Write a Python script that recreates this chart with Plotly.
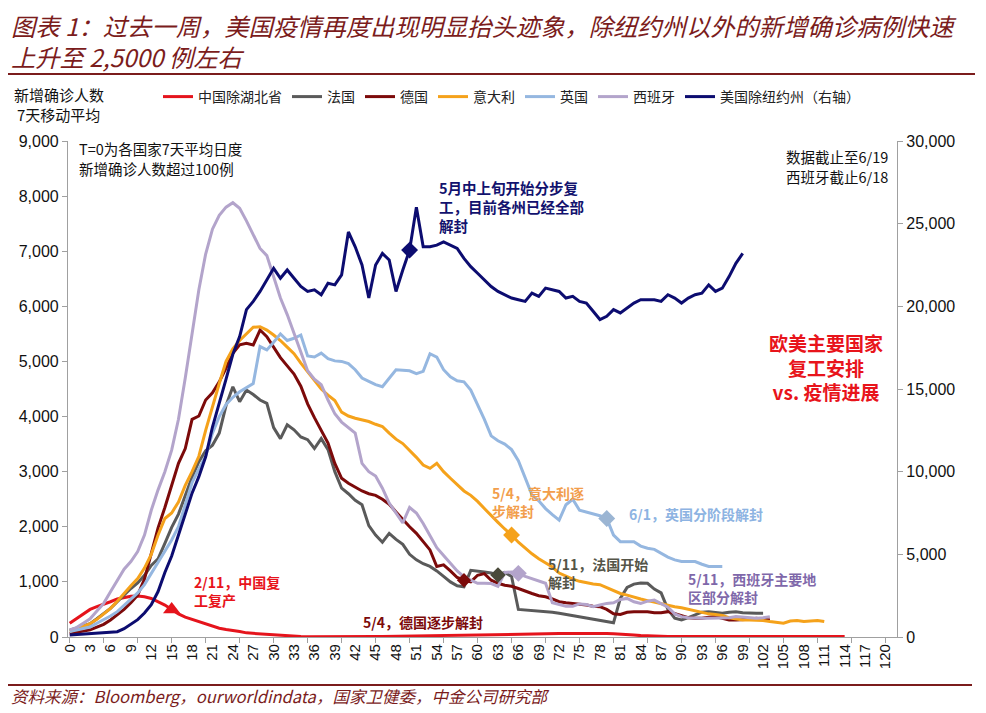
import plotly.graph_objects as go

# ---------------- data (7-day moving average of new confirmed cases) ----------------
china = [250, 330, 420, 500, 550, 590, 640, 690, 720, 740,
         745, 730, 700, 640, 580, 500, 420, 360, 320, 270,
         240, 200, 160, 135, 120, 100, 75, 65, 55, 48,
         40, 30, 20, 12, 8, 6, 5, 5, 5, 5,
         6, 6, 7, 8, 8, 9, 10, 12, 15, 18,
         22, 25, 28, 30, 32, 35, 38, 40, 45, 48,
         50, 52, 55, 55, 56, 56, 56, 58, 58, 58,
         60, 60, 62, 62, 64, 65, 66, 66, 66, 64,
         60, 55, 45, 35, 25, 18, 14, 12, 10, 10,
         10, 10, 10, 10, 10, 10, 10, 10, 10, 10,
         10, 10, 10, 10, 10, 10, 10, 10, 10, 10,
         10, 10, 10, 10, 10]

france = [125, 160, 200, 240, 330, 420, 520, 640, 760, 880,
          980, 1120, 1300, 1420, 1700, 1990, 2230, 2550, 2900, 3180,
          3380, 3480, 3700, 4200, 4540, 4270, 4480, 4400, 4300, 4240,
          3800, 3600, 3850, 3760, 3630, 3580, 3420, 3600, 3400, 3000,
          2700, 2600, 2480, 2400, 2020, 1850, 1720, 1880, 1770, 1680,
          1500, 1400, 1330, 1280, 1200, 1100, 1000, 930, 910, 1210,
          1200, 1180, 1160, 1125, 1170, 1100, 500, 490, 490, 480,
          470, 450, 430, 410, 380, 360, 340, 330, 310, 290,
          260, 700, 900, 960, 980, 975, 870, 800, 500, 340,
          310, 350, 400, 450, 460, 440, 430, 450, 460, 440,
          430, 430, 430]

germany = [65, 90, 110, 130, 180, 230, 310, 400, 500, 620,
           760, 1050, 1500, 1980, 2350, 2750, 3150, 3420, 3950, 4010,
           4300, 4430, 4630, 4880, 5150, 5300, 5330, 5300, 5570, 5450,
           5270, 5070, 4920, 4770, 4550, 4230, 3980, 3740, 3520, 3150,
           2880, 2790, 2720, 2650, 2600, 2570, 2500, 2410, 2270, 2130,
           2000, 1880, 1720, 1580, 1280, 1310, 1200, 1080, 1030, 1000,
           1120, 1150, 1030, 975, 940, 920, 880, 830, 790, 750,
           730, 690, 640, 620, 610, 590, 580, 560, 550, 500,
           420, 410, 450, 460, 460, 460, 440, 440, 460, 420,
           390, 350, 340, 340, 360, 370, 340, 310, 310, 310,
           320, 340, 320, 310]

italy = [100, 150, 200, 240, 320, 420, 520, 650, 800, 930,
         1060, 1250, 1500, 1850, 2150, 2250, 2450, 2750, 3000, 3280,
         3750, 4200, 4600, 5000, 5230, 5380, 5500, 5620, 5630, 5570,
         5480, 5380, 5260, 5140, 4970, 4810, 4650, 4500, 4390, 4290,
         4080, 4010, 3970, 3940, 3910, 3860, 3820, 3700, 3590, 3510,
         3390, 3260, 3120, 3060, 3150, 3000, 2880, 2760, 2650, 2570,
         2460, 2330, 2200, 2080, 1960, 1850, 1720, 1610, 1510, 1420,
         1350, 1270, 1160, 1100, 1050, 1010, 980, 960, 950, 900,
         850, 790, 760, 720, 690, 660, 630, 600, 570, 550,
         530, 500, 470, 440, 420, 410, 390, 350, 330, 310,
         310, 310, 300, 280, 260, 250, 290, 300, 280, 290,
         300, 280]

uk = [100, 130, 160, 180, 250, 310, 380, 460, 570, 680,
      800, 950, 1150, 1350, 1550, 1760, 2000, 2400, 2800, 3050,
      3280, 3700, 4000, 4220, 4350, 4450, 4520, 4600, 5270, 5210,
      5350, 5500, 5380, 5420, 5480, 5100, 5080, 5150, 5050, 5010,
      5000, 4960, 4850, 4700, 4640, 4580, 4540, 4700, 4850, 4840,
      4830, 4780, 4820, 5140, 5080, 4850, 4720, 4650, 4630, 4480,
      4230, 3950, 3650, 3560, 3500, 3400, 3200, 2900, 2580, 2470,
      2330, 2220, 2120, 2400, 2500, 2300, 2270, 2240, 2200, 2150,
      1850, 1730, 1730, 1730, 1650, 1610, 1590, 1520, 1450, 1400,
      1370, 1370, 1370, 1320, 1280, 1280, 1280]

spain = [130, 170, 250, 330, 470, 610, 820, 1020, 1230, 1370,
         1550, 1850, 2300, 2670, 3000, 3390, 3950, 4700, 5500, 6300,
         6950, 7400, 7650, 7800, 7880, 7780, 7550, 7300, 7050, 6920,
         6550, 6150, 5850, 5510, 5150, 4830, 4680, 4580, 4300, 4050,
         3900, 3800, 3700, 3150, 3000, 2920, 2700, 2430, 2250, 2070,
         2350, 2250, 2060, 1850, 1620, 1480, 1330, 1200, 1090, 1030,
         975, 975, 970, 920, 1170, 1180, 1155, 1100, 1060, 1020,
         975, 620, 590, 560, 560, 600, 590, 550, 580, 610,
         620, 680, 700, 640, 610, 650, 670, 600, 540, 420,
         370, 350, 340, 340, 340, 340, 340, 350, 370, 360,
         350, 340, 350, 370]

us_ex_ny = [120, 150, 180, 210, 240, 260, 290, 320, 500, 780,
            1050, 1450, 1950, 2750, 3900, 4900, 6200, 7400, 8700, 9700,
            10900, 12700, 14100, 15600, 17100, 18170, 19800, 20300, 20900, 21600,
            22300, 21700, 22200, 21700, 21200, 20900, 21000, 20700, 21400, 21300,
            21900, 24500, 23600, 22500, 20500, 22500, 23200, 22800, 20900, 22200,
            23400, 26000, 23600, 23600, 23700, 23900, 23700, 23500, 22900, 22400,
            22000, 21600, 21200, 20900, 20700, 20500, 20400, 20300, 20800, 20600,
            21100, 21000, 20900, 20500, 20600, 20300, 20200, 19700, 19200, 19400,
            19800, 19600, 19900, 20200, 20400, 20400, 20400, 20300, 20700, 20500,
            20200, 20500, 20700, 20800, 21300, 20900, 21100, 21800, 22600, 23200]

# reopening-event day (T index) for each series
mark_china, mark_france, mark_germany, mark_italy = 15, 63, 58, 65
mark_uk, mark_spain, mark_us = 79, 66, 50

names = ["中国除湖北省", "法国", "德国", "意大利", "英国", "西班牙", "美国除纽约州（右轴）"]
x_ticks = list(range(0, 121, 3))

# ---------------- styling ----------------
C_CHINA, C_FR, C_DE, C_IT = "#E5141C", "#5A5A5A", "#7C0A0A", "#F5A21B"
C_UK, C_ES, C_US = "#95B7E0", "#B3A4CB", "#0C0C70"
MAROON = "#7B1C1C"
CJK = "Noto Sans CJK SC"
LAT = "Liberation Sans, Arial"

OFF = 8                     # default page margin of the html body
W, H = 986 - OFF, 713 - OFF  # figure size so that it fits the window
L, R, T, B = 68, 897, 141, 637   # plot area in window pixels


def P(xp, yp):
    return (xp - L) / (R - L), (B - yp) / (B - T)


fig = go.Figure()
series = [(china, C_CHINA, "y"), (france, C_FR, "y"), (germany, C_DE, "y"),
          (italy, C_IT, "y"), (uk, C_UK, "y"), (spain, C_ES, "y"), (us_ex_ny, C_US, "y2")]
for (vals, col, yax), nm in zip(series, names):
    fig.add_trace(go.Scatter(x=list(range(len(vals))), y=vals, name=nm, mode="lines",
                             line=dict(color=col, width=3), yaxis=yax))

marks = [(china, mark_china, C_CHINA, "triangle-up", 15, "y"),
         (france, mark_france, "#4A4A3A", "diamond", 12, "y"),
         (germany, mark_germany, C_DE, "diamond", 11, "y"),
         (italy, mark_italy, C_IT, "diamond", 13, "y"),
         (uk, mark_uk, "#9BB5D3", "diamond", 13, "y"),
         (spain, mark_spain, "#B3A4CB", "diamond", 13, "y"),
         (us_ex_ny, mark_us, C_US, "diamond", 13, "y2")]
for vals, idx, col, sym, sz, yax in marks:
    fig.add_trace(go.Scatter(x=[idx], y=[vals[idx]], mode="markers", showlegend=False,
                             marker=dict(color=col, symbol=sym, size=sz), yaxis=yax,
                             hoverinfo="skip"))

# helper trace for the tick-mark axis
fig.add_trace(go.Scatter(x=[0], y=[0], xaxis="x2", mode="markers", showlegend=False,
                         marker=dict(opacity=0), hoverinfo="skip"))

axis_col = "#A0A0A0"
fig.update_layout(
    width=W, height=H, autosize=False,
    margin=dict(l=L - OFF, r=W + OFF - R, t=T - OFF, b=H + OFF - B, pad=0),
    paper_bgcolor="white", plot_bgcolor="white",
    showlegend=True,
    legend=dict(orientation="h", x=P(158, 0)[0], y=P(0, 97)[1], xanchor="left", yanchor="middle",
                font=dict(family=CJK, size=14, color="#222"), bgcolor="rgba(0,0,0,0)",
                itemwidth=30, tracegroupgap=0),
    xaxis=dict(range=[-0.25, 121.7], tickmode="array", tickvals=x_ticks,
               ticktext=[str(v) for v in x_ticks], tickangle=-90, ticks="",
               tickfont=dict(family=LAT, size=15, color="#111"),
               showline=True, linecolor=axis_col, linewidth=1.2, showgrid=False, zeroline=False,
               automargin=False),
    xaxis2=dict(range=[-0.25, 121.7], overlaying="x", side="bottom", dtick=5, tick0=0,
                ticks="outside", ticklen=5, tickcolor=axis_col, showticklabels=False,
                showline=False, showgrid=False, zeroline=False, automargin=False),
    yaxis=dict(range=[0, 9000], dtick=1000, tickformat=",", ticks="outside", ticklen=5,
               tickcolor=axis_col, tickfont=dict(family=LAT, size=16, color="#111"),
               showline=True, linecolor=axis_col, linewidth=1.2, showgrid=False, zeroline=False,
               automargin=False),
    yaxis2=dict(range=[0, 30000], dtick=5000, tickformat=",", ticks="outside", ticklen=5,
                tickcolor=axis_col, tickfont=dict(family=LAT, size=16, color="#111"),
                overlaying="y", side="right", showline=True, linecolor=axis_col, linewidth=1.2,
                showgrid=False, zeroline=False, automargin=False),
)

ann = []


def note(xp, yp, text, size=14, color="#111", xanchor="left", align="left", bold=False,
         italic=False, family=CJK, yanchor="middle"):
    x, y = P(xp, yp)
    t = text
    if bold:
        t = "<b>" + t + "</b>"
    if italic:
        t = "<i>" + t + "</i>"
    ann.append(dict(x=x, y=y, xref="paper", yref="paper", text=t, showarrow=False,
                    xanchor=xanchor, yanchor=yanchor, align=align,
                    font=dict(family=family, size=size, color=color)))


# title / source
note(9, 25, "图表 1：过去一周，美国疫情再度出现明显抬头迹象，除纽约州以外的新增确诊病例快速",
     size=24.3, color=MAROON, italic=True)
note(9, 56, "上升至 2,5000 例左右", size=24.3, color=MAROON, italic=True)
note(9, 696, "资料来源：Bloomberg，ourworldindata，国家卫健委，中金公司研究部",
     size=16.5, color=MAROON, italic=True)

# axis title
note(12, 94, "新增确诊人数", size=15)
note(15, 114, "7天移动平均", size=15)

# notes
note(77, 148, "T=0为各国家7天平均日度", size=14.5)
note(77, 168, "新增确诊人数超过100例", size=14.5)
note(890, 156, "数据截止至6/19", size=14.5, xanchor="right")
note(890, 176, "西班牙截止6/18", size=14.5, xanchor="right")

note(437, 206, "5月中上旬开始分步复<br>工，目前各州已经全部<br>解封", size=14.5, color="#12126E",
     bold=True)
note(826, 367, "欧美主要国家<br>复工安排<br>vs. 疫情进展", size=19, color="#E8141B", bold=True,
     xanchor="center", align="center")
note(490, 502, "5/4，意大利逐<br>步解封", size=14, color="#F29E4C", bold=True)
note(627, 514, "6/1，英国分阶段解封", size=14, color="#8DB3E2", bold=True)
note(546, 573, "5/11，法国开始<br>解封", size=14, color="#555548", bold=True)
note(686, 588, "5/11，西班牙主要地<br>区部分解封", size=14, color="#7F68AA", bold=True)
note(192, 591, "2/11，中国复<br>工复产", size=14, color="#E8141B", bold=True)
note(361, 622, "5/4，德国逐步解封", size=14, color="#7C0A0A", bold=True)

fig.update_layout(annotations=ann)

shapes = []
for y_px, x0_px, x1_px in [(74, 8, 975), (685, 8, 972)]:
    shapes.append(dict(type="line", xref="paper", yref="paper",
                       x0=P(x0_px, 0)[0], x1=P(x1_px, 0)[0], y0=P(0, y_px)[1], y1=P(0, y_px)[1],
                       line=dict(color=MAROON, width=2.2)))
fig.update_layout(shapes=shapes)

fig.write_html("out.html")
